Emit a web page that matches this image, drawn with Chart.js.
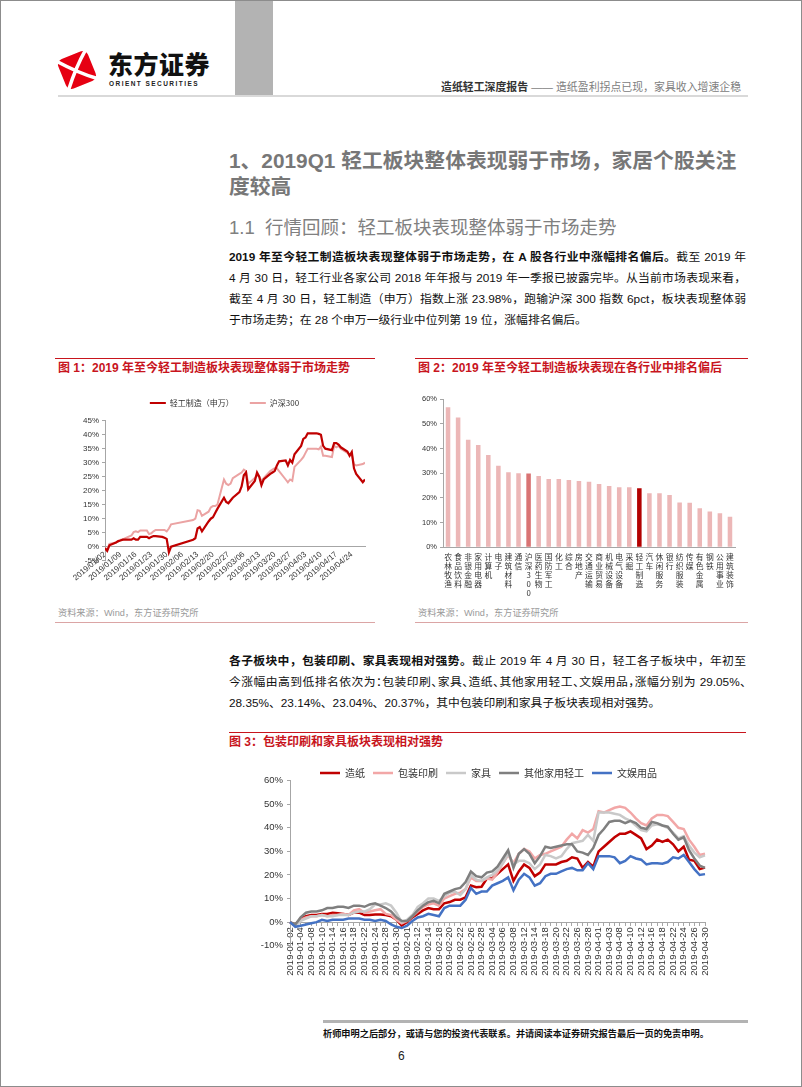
<!DOCTYPE html>
<html lang="zh-CN">
<head>
<meta charset="UTF-8">
<title>造纸轻工深度报告</title>
<script src="https://cdn.jsdelivr.net/npm/chart.js"></script>
<style>
  html, body { margin: 0; padding: 0; background: #fff; }
  body { font-family: "Liberation Sans", Arial, "Noto Sans CJK SC", sans-serif; color: #111; }
  .page { position: relative; width: 802px; height: 1087px; overflow: hidden; }
  .frame { position: absolute; left: 0; top: 0; width: 802px; height: 1087px; box-sizing: border-box; border: 1px solid #8c8c8c; pointer-events: none; }
  .abs { position: absolute; }
  .brand { left: 108px; top: 46px; font-family: "Noto Sans CJK SC", sans-serif; font-size: 25px; font-weight: 900; color: #111; line-height: 34px; letter-spacing: 0.5px; }
  .brand-en { left: 109px; top: 80px; font-size: 6.5px; font-weight: bold; letter-spacing: 1.45px; color: #222; line-height: 8px; }
  .greybar { left: 235px; top: 0; width: 38px; height: 95px; background: #b3b3b3; }
  .runhead { left: 441px; top: 79px; font-size: 10.9px; line-height: 16px; color: #808080; white-space: nowrap; }
  .runhead b { color: #333; }
  .headline { left: 58px; top: 95px; width: 690px; height: 2px; background: #d9d9d9; }
  .h1 { left: 229px; top: 148px; width: 520px; font-size: 20.8px; font-weight: bold; line-height: 26px; color: #777; }
  .h2 { left: 229px; top: 216px; font-size: 18.5px; line-height: 24px; color: #808080; white-space: nowrap; }
  .para { left: 229px; width: 517px; font-size: 11.8px; line-height: 21px; }
  .para div { text-align: justify; text-align-last: justify; }
  .para div.last { text-align-last: left; }
  .halt { font-feature-settings: "halt"; }
  .redline { height: 1px; background: #c8151d; }
  .cap { font-size: 12px; font-weight: bold; color: #c8151d; line-height: 14px; white-space: nowrap; }
  .src { font-size: 9.2px; color: #9a9a9a; line-height: 14px; white-space: nowrap; }
  .srcline { height: 1px; background: #dba5a5; }
  .box { position: absolute; }
  .footline { left: 323px; top: 1020px; width: 425px; height: 3px; background: #b3b3b3; }
  .foot { left: 323px; top: 1027px; font-size: 9.2px; font-weight: bold; line-height: 14px; color: #111; white-space: nowrap; }
  .pageno { left: 398px; top: 1048px; font-size: 12px; line-height: 16px; color: #222; }
</style>
</head>
<body>
<div class="page">
  <svg class="abs" style="left:54px;top:47px" width="46" height="46" viewBox="0 0 46 46">
    <g transform="rotate(-22 23 23)">
      <rect x="7" y="7" width="32" height="32" rx="6" fill="#e60012"/>
      <path d="M8 8 Q23 26 38 38 M38 8 Q23 20 8 38" stroke="#fff" stroke-width="3.5" fill="none"/>
    </g>
  </svg>
  <div class="abs brand">东方证券</div>
  <div class="abs brand-en">ORIENT SECURITIES</div>
  <div class="abs greybar"></div>
  <div class="abs runhead"><b>造纸轻工深度报告</b> —— 造纸盈利拐点已现，家具收入增速企稳</div>
  <div class="abs headline"></div>

  <div class="abs h1">1、2019Q1 轻工板块整体表现弱于市场，家居个股关注<br>度较高</div>
  <div class="abs h2">1.1&nbsp;&nbsp;行情回顾：轻工板块表现整体弱于市场走势</div>

  <div class="abs para" style="top:247px">
    <div><b>2019 年至今轻工制造板块表现整体弱于市场走势，在 A 股各行业中涨幅排名偏后。</b>截至 2019 年</div>
    <div>4 月 30 日，轻工行业各家公司 2018 年年报与 2019 年一季报已披露完毕。从当前市场表现来看，</div>
    <div>截至 4 月 30 日，轻工制造（申万）指数上涨 23.98%，跑输沪深 300 指数 6pct，板块表现整体弱</div>
    <div class="last">于市场走势；在 28 个申万一级行业中位列第 19 位，涨幅排名偏后。</div>
  </div>

  <div class="abs redline" style="left:55px;top:358px;width:320px"></div>
  <div class="abs cap" style="left:58px;top:361px">图 1：2019 年至今轻工制造板块表现整体弱于市场走势</div>
  <div class="box" style="left:55px;top:380px;width:320px;height:225px"><canvas id="c1"></canvas></div>
  <div class="abs src" style="left:58px;top:606px">资料来源：Wind，东方证券研究所</div>
  <div class="abs srcline" style="left:55px;top:622px;width:320px"></div>

  <div class="abs redline" style="left:415px;top:358px;width:333px"></div>
  <div class="abs cap" style="left:418px;top:361px">图 2：2019 年至今轻工制造板块表现在各行业中排名偏后</div>
  <div class="box" style="left:405px;top:385px;width:345px;height:215px"><canvas id="c2"></canvas></div>
  <div class="abs src" style="left:418px;top:606px">资料来源：Wind，东方证券研究所</div>
  <div class="abs srcline" style="left:415px;top:622px;width:333px"></div>

  <div class="abs para" style="top:651px">
    <div><b>各子板块中，包装印刷、家具表现相对强势。</b>截止 2019 年 4 月 30 日，轻工各子板块中，年初至</div>
    <div class="halt">今涨幅由高到低排名依次为：包装印刷、家具、造纸、其他家用轻工、文娱用品，涨幅分别为 29.05%、</div>
    <div class="last">28.35%、23.14%、23.04%、20.37%，其中包装印刷和家具子板块表现相对强势。</div>
  </div>

  <div class="abs redline" style="left:229px;top:732px;width:517px"></div>
  <div class="abs cap" style="left:229px;top:735px">图 3：包装印刷和家具板块表现相对强势</div>
  <div class="box" style="left:228px;top:755px;width:524px;height:235px"><canvas id="c3"></canvas></div>

  <div class="abs footline"></div>
  <div class="abs foot">析师申明之后部分，或请与您的投资代表联系。并请阅读本证券研究报告最后一页的免责申明。</div>
  <div class="abs pageno">6</div>
  <div class="frame"></div>
</div>

<script>
// trading days, 2019-01-02 .. 2019-04-30
const tradeDates = [
  '01-02','01-03','01-04','01-07','01-08','01-09','01-10','01-11','01-14','01-15','01-16',
  '01-17','01-18','01-21','01-22','01-23','01-24','01-25','01-28','01-29','01-30','01-31',
  '02-01','02-11','02-12','02-13','02-14','02-15','02-18','02-19','02-20','02-21','02-22',
  '02-25','02-26','02-27','02-28',
  '03-01','03-04','03-05','03-06','03-07','03-08','03-11','03-12','03-13','03-14','03-15',
  '03-18','03-19','03-20','03-21','03-22','03-25','03-26','03-27','03-28','03-29',
  '04-01','04-02','04-03','04-04','04-08','04-09','04-10','04-11','04-12','04-15','04-16',
  '04-17','04-18','04-19','04-22','04-23','04-24','04-25','04-26','04-29','04-30'
];

// chart 1
const c1Ticks = ['2019/01/02','2019/01/09','2019/01/16','2019/01/23','2019/01/30','2019/02/06',
  '2019/02/13','2019/02/20','2019/02/27','2019/03/06','2019/03/13','2019/03/20','2019/03/27',
  '2019/04/03','2019/04/10','2019/04/17','2019/04/24'];
const c1End = '2019/04/30';
const c1Light = [
  -0.5, -1.5, 0.5, 1.5, 2, 2.2, 2.5, 2.5, 2.5, 3, 2.5, 2.5, 3.5, 3.5, 3, 3.5, 3.8, 3.8, 3.5, 3.2, 2.8, -2,
  0, 2.5, 3, 6.5, 7, 5.5, 9, 10, 10.5, 12, 13.5, 17.5, 16, 15.5, 16.5,
  17.5, 19.5, 21.5, 25.5, 26.5, 20.5, 23.5, 26.5, 25, 22, 24, 26, 26.5, 27, 29, 30.5, 30.8, 29, 31, 30, 33,
  36, 38.5, 39, 40.5, 40.5, 40.3, 40, 36, 35, 34.5, 37, 37, 36.5, 35.5, 34, 32.5, 33.8, 28, 26, 23, 24
];
const c1Hs300 = [
  -0.5, -1, 1, 1.5, 1.8, 2.5, 2.5, 3, 4, 5.2, 5.5, 5.2, 5.8, 5.8, 4.5, 4.8, 5.5, 6, 6, 6, 5.5, 6.5,
  8, 9.5, 10, 13, 12.8, 11, 12.5, 14, 14.5, 14.5, 15, 24, 22.5, 22, 22.5,
  24.5, 26, 26.5, 27.5, 27, 22.5, 24.5, 25.5, 25, 23.5, 24.5, 27, 27.5, 28, 28, 27, 24, 23, 24, 23.5, 28.5,
  31, 32, 33.5, 35, 35, 34.8, 35.8, 32.5, 32.5, 32, 36, 35.5, 36, 35, 33.5, 33, 33, 29.5, 29, 29.5, 30
];

// chart 2
const c2Names = ['农林牧渔','食品饮料','非银金融','家用电器','计算机','电子','建筑材料','通信','沪深300',
  '医药生物','国防军工','化工','综合','房地产','交通运输','商业贸易','机械设备','电气设备','采掘',
  '轻工制造','汽车','休闲服务','银行','纺织服装','传媒','有色金属','钢铁','公用事业','建筑装饰'];
const c2Values = [56.8, 52.6, 43.6, 41.5, 37.4, 33.1, 30.4, 30, 29.9, 28.9, 27.7, 27.7, 27.3, 26.9,
  26.6, 25.7, 24.9, 24.3, 24.3, 23.98, 21.9, 21.9, 21.2, 18.2, 18.1, 15.8, 14.5, 13.8, 12.4];

// chart 3
const c3Names = ['造纸','包装印刷','家具','其他家用轻工','文娱用品'];
const c3Paper = [
  0, -1.2, 1.5, 2.5, 3, 3, 3.5, 3.5, 4, 3.8, 3.5, 3, 4, 4, 3, 3, 3.2, 3.2, 3, 2.5, 1, -1.5,
  0, 2, 3.5, 5, 6, 5.5, 5.5, 8, 8.5, 9.5, 9.5, 10.5, 15.5, 14.8, 15,
  18.5, 18.5, 20.5, 22.5, 24.5, 17.5, 21.5, 24.5, 23, 19.5, 21, 24.5, 24.5, 24.5, 25.5, 26, 27.5, 27, 23, 25.5, 23.5,
  30, 32, 34, 36, 37.5, 37.5, 38.5, 37, 35.5, 31, 32.5, 35, 34, 35, 33, 30, 32, 26.5, 26, 22.5, 23.14
];
const c3Pack = [
  0, -1.5, 1, 2, 2.5, 2.5, 3, 2.5, 3, 3, 3.5, 3, 5, 5.5, 4, 4.5, 5, 5.5, 3.5, 3, 1, -0.5,
  0.5, 2.5, 4.5, 6.5, 7.5, 8, 7, 10, 11, 12, 12.5, 14, 19, 17.5, 17.5,
  18.5, 18, 21, 25, 28.5, 25, 29, 31, 30, 27, 28.5, 29, 30, 31, 32, 35, 37.5, 35.5, 39, 38, 39.5,
  47, 46.5, 47.5, 48.5, 49, 48.5, 46.5, 44, 42, 41, 44, 45.5, 45.5, 45, 42.5, 40, 39.5, 35, 32, 28.5, 29.05
];
const c3Furn = [
  0, -1.5, 0.5, 1.5, 2.5, 2.5, 3, 2.5, 2.5, 3, 3, 3, 4, 4.5, 4.5, 5.5, 7.5, 7.5, 8, 7, 4, 0,
  1, 3, 6.5, 8, 10, 10, 9, 11, 12.5, 13, 11.5, 14, 20, 18, 17.5,
  19, 20, 22, 25, 29, 24.5, 26, 26, 25, 22.5, 24.5, 28.5, 28, 27, 28, 31, 33.5, 34, 34.5, 37, 34.5,
  46.5, 46.5, 46.5, 46, 45.5, 44, 43, 41, 39, 38.5, 41, 41.5, 41, 40, 38, 35.5, 36.5, 32.5, 29.5, 27.5, 28.35
];
const c3Other = [
  0, -1, 2, 4, 4.5, 4.5, 5, 6, 6, 6.5, 6.5, 6, 7, 7, 6.5, 7.5, 8, 7, 6, 4.5, 2, 0.5,
  0.5, 2.5, 5, 7, 8.5, 9, 8, 12, 13, 14, 14.5, 17, 21.5, 19.5, 19,
  21, 21.5, 23.5, 27, 30.5, 23, 29, 31, 29, 25, 28, 32, 31.5, 32, 32.5, 33, 33, 30, 29.5, 28.5, 31.5,
  37, 39.5, 42.5, 43, 43, 42, 43, 42, 40, 39.5, 42.5, 42, 41, 40.5, 37.5, 35, 36, 30.5, 27, 24, 23.04
];
const c3Toy = [
  0, -2, -1.5, -1, -0.5, 0, 1, 0.5, 1, 1, 1, 1.5, 1.5, 1.5, 1, 1, 0.5, 1, 0.5, -1, -2, -2.5,
  -1.5, 0.5, 2, 2.5, 3.5, 3, 2.5, 6, 7, 7, 7, 9.5, 14.5, 12, 13,
  13, 15.5, 16.5, 17.5, 19, 13.5, 18, 20.5, 19, 15.5, 16.5, 19.5, 20.5, 20.5, 21.5, 22.5, 23, 22, 22, 25, 22.5,
  28, 28, 28, 27.5, 25, 26, 28, 27, 26.5, 24.5, 25, 25, 24.8, 25.5, 27.5, 27, 28.5, 25.5, 22.5, 20, 20.37
];

Chart.defaults.font.family = '"Liberation Sans", Arial, "Noto Sans CJK SC", sans-serif';
Chart.defaults.color = '#333';
const CJK = '"Noto Sans CJK SC", sans-serif';
const axisGrey = '#a6a6a6';

function doy(s) {
  const p = s.split(/[\/-]/).map(Number);
  return (Date.UTC(p[0], p[1] - 1, p[2]) - Date.UTC(p[0], 0, 1)) / 864e5 + 1;
}

// moves the legend after layout
function nudgeLegend(dx, dy) {
  return {
    id: 'nudgeLegend',
    afterLayout(chart) {
      const lg = chart.legend;
      if (!lg) return;
      lg.left += dx; lg.right += dx;
      lg.top += dy; lg.bottom += dy;
    }
  };
}

const yGrid = { display: true, drawOnChartArea: false, drawTicks: true, tickLength: 3, color: axisGrey };

// ---- chart 1
new Chart(document.getElementById('c1'), {
  type: 'line',
  data: {
    datasets: [
      { label: '轻工制造（申万）', data: tradeDates.map((d, i) => ({ x: doy('2019-' + d), y: c1Light[i] })),
        borderColor: '#c00000', borderWidth: 2.2, pointRadius: 0, tension: 0 },
      { label: '沪深300', data: tradeDates.map((d, i) => ({ x: doy('2019-' + d), y: c1Hs300[i] })),
        borderColor: '#eba3a3', borderWidth: 2, pointRadius: 0, tension: 0 }
    ]
  },
  options: {
    responsive: true, maintainAspectRatio: false, animation: false,
    layout: { padding: { top: 6.7, right: 10, bottom: 44.3, left: 0 } },
    plugins: {
      tooltip: { enabled: false },
      legend: {
        labels: { usePointStyle: true, pointStyle: 'line', pointStyleWidth: 16, padding: 16,
          font: { size: 8, family: CJK }, color: '#333' }
      }
    },
    scales: {
      x: {
        type: 'linear', position: { y: 0 },
        min: doy(c1Ticks[0]), max: doy(c1End),
        afterBuildTicks: s => { s.ticks = c1Ticks.map(t => ({ value: doy(t) })); },
        afterFit: s => { s.height = 0; },
        grid: { display: false, drawTicks: false },
        border: { display: true, color: axisGrey },
        ticks: { autoSkip: false, minRotation: 40, maxRotation: 40, padding: 3,
          font: { size: 8 }, color: '#333',
          callback: v => c1Ticks.find(t => doy(t) === v) || '' }
      },
      y: {
        min: -5, max: 45,
        afterFit: s => { s.width = 50; },
        grid: yGrid, border: { color: axisGrey },
        ticks: { stepSize: 5, padding: 3, font: { size: 8 }, color: '#333', callback: v => v + '%' }
      }
    }
  },
  plugins: [nudgeLegend(14.5, -3.7)]
});

// ---- chart 2
new Chart(document.getElementById('c2'), {
  type: 'bar',
  data: {
    labels: c2Names.map(n => Array.from(n)),
    datasets: [{
      data: c2Values,
      backgroundColor: c2Names.map(n => n === '轻工制造' ? '#b30000' : (n === '沪深300' ? '#d97474' : '#ecb7b7')),
      barPercentage: 0.45, categoryPercentage: 1
    }]
  },
  options: {
    responsive: true, maintainAspectRatio: false, animation: false,
    layout: { padding: { top: 14.3, right: 15, bottom: 0, left: 0 } },
    plugins: { legend: { display: false }, tooltip: { enabled: false } },
    scales: {
      x: {
        afterFit: s => { s.height = 52.7; },
        grid: { display: false, drawTicks: false },
        border: { display: true, color: axisGrey },
        ticks: { autoSkip: false, maxRotation: 0, minRotation: 0, padding: 5,
          font: { size: 7.8, family: CJK, lineHeight: 1.15 }, color: '#333' }
      },
      y: {
        min: 0, max: 60,
        afterFit: s => { s.width = 38; },
        grid: yGrid, border: { color: axisGrey },
        ticks: { stepSize: 10, padding: 3, font: { size: 7.5 }, color: '#333', callback: v => v + '%' }
      }
    }
  }
});

// ---- chart 3
const c3Series = [c3Paper, c3Pack, c3Furn, c3Other, c3Toy];
const c3Colors = ['#c00000', '#f2a7a7', '#c9c9c9', '#7f7f7f', '#4472c4'];
new Chart(document.getElementById('c3'), {
  type: 'line',
  data: {
    labels: tradeDates.map(d => '2019-' + d),
    datasets: c3Series.map((s, i) => ({
      label: c3Names[i], data: s, borderColor: c3Colors[i], backgroundColor: c3Colors[i],
      borderWidth: 2.5, pointRadius: 0, tension: 0, order: -i
    }))
  },
  options: {
    responsive: true, maintainAspectRatio: false, animation: false,
    layout: { padding: { top: 5, right: 47, bottom: 44.3, left: 0 } },
    plugins: {
      tooltip: { enabled: false },
      legend: {
        maxHeight: 20.7,
        labels: { usePointStyle: true, pointStyle: 'line', pointStyleWidth: 20, padding: 8,
          font: { size: 10, family: CJK }, color: '#333',
          sort: (a, b) => a.datasetIndex - b.datasetIndex }
      }
    },
    scales: {
      x: {
        position: { y: 0 },
        afterFit: s => { s.height = 0; },
        grid: { display: true, drawOnChartArea: false, drawTicks: true, tickLength: 3, color: axisGrey },
        border: { display: true, color: axisGrey },
        ticks: { autoSkip: false, minRotation: 90, maxRotation: 90, padding: 2,
          font: { size: 9.5 }, color: '#333',
          callback: function (v, i) { return i % 2 === 0 ? this.getLabelForValue(v) : ''; } }
      },
      y: {
        min: -10, max: 60,
        afterFit: s => { s.width = 62; },
        grid: yGrid, border: { color: axisGrey },
        ticks: { stepSize: 10, padding: 4, font: { size: 9.5 }, color: '#333', callback: v => v + '%' }
      }
    }
  },
  plugins: [nudgeLegend(22, 0)]
});
</script>
</body>
</html>
